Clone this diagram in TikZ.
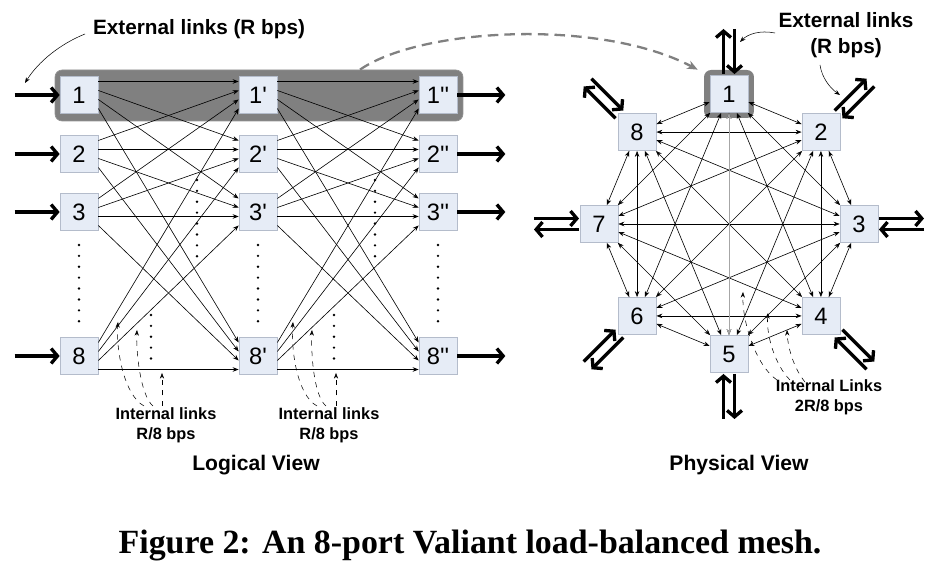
\documentclass[tikz,border=0pt]{standalone}
\usepackage{fontspec}
\setmainfont{Liberation Serif}
\setsansfont{Liberation Sans}
\usetikzlibrary{arrows.meta,calc}

\definecolor{portfill}{HTML}{E6ECF6}
\definecolor{portline}{HTML}{B4BCCB}

\tikzset{
	port/.style={draw=portline, fill=portfill, minimum width=0.76cm, minimum height=0.74cm, inner sep=0pt, font=\sffamily\fontsize{13.5}{15}\selectfont},
	extlink/.style={line width=1.9pt, -{Straight Barb[length=3.6pt,width=8.5pt]}},
	link/.style={line width=0.35pt, -{Stealth[length=3.4pt,width=2.6pt]}},
	mesh/.style={line width=0.35pt, {Stealth[length=3.4pt,width=2.6pt]}-{Stealth[length=3.4pt,width=2.6pt]}},
	note/.style={font=\sffamily\bfseries\fontsize{9.3}{11.5}\selectfont, align=center},
	bignote/.style={font=\sffamily\bfseries\fontsize{11.8}{14.5}\selectfont, align=center},
	title/.style={font=\sffamily\bfseries\fontsize{12}{14}\selectfont},
	pointer/.style={line width=0.3pt, -{Stealth[length=3.2pt,width=2.4pt]}},
	vdots/.style={line width=1.5pt, line cap=round, dash pattern=on 0pt off 6.2pt},
}

\begin{document}
\begin{tikzpicture}[x=0.02cm, y=-0.02cm]
	\useasboundingbox (0,0) rectangle (938,573);

	% logical view
	\draw node[fill=gray, draw=gray!85, rounded corners=4pt, minimum width=8.16cm, minimum height=1.02cm] at (259,95.5) (hl) {};

	\draw node[port] at (79,95) (a1) {1};
	\draw node[port] at (79,154) (a2) {2};
	\draw node[port] at (79,212) (a3) {3};
	\draw node[port] at (79,356) (a8) {8};
	\draw node[port] at (258,95) (b1) {1\textquotesingle};
	\draw node[port] at (258,154) (b2) {2\textquotesingle};
	\draw node[port] at (258,212) (b3) {3\textquotesingle};
	\draw node[port] at (258,356) (b8) {8\textquotesingle};
	\draw node[port] at (438,95) (c1) {1\textquotesingle\textquotesingle};
	\draw node[port] at (438,154) (c2) {2\textquotesingle\textquotesingle};
	\draw node[port] at (438,212) (c3) {3\textquotesingle\textquotesingle};
	\draw node[port] at (438,356) (c8) {8\textquotesingle\textquotesingle};

	\foreach \i/\oi in {1/-13.5, 2/-4.5, 3/4.5, 8/13.5}
		\foreach \j/\oj in {1/-13.5, 2/-4.5, 3/4.5, 8/13.5} {
			\draw [link] ($(a\i.east)+(0,\oj)$) -- ($(b\j.west)+(0,\oi)$);
			\draw [link] ($(b\i.east)+(0,\oj)$) -- ($(c\j.west)+(0,\oi)$);
		}

	\foreach \r in {1,2,3,8} {
		\draw [extlink] ($(a\r.west)+(-45,0)$) -- (a\r.west);
		\draw [extlink] (c\r.east) -- ++(48,0);
	}

	\draw [vdots] (79,245) -- (79,322);
	\draw [vdots] (258,245) -- (258,322);
	\draw [vdots] (438,245) -- (438,322);
	\draw [vdots] (197,180) -- (197,257);
	\draw [vdots] (375,180) -- (375,257);
	\draw [vdots] (151,315) -- (151,360);
	\draw [vdots] (334,315) -- (334,360);

	\draw node[bignote] at (199,29) (extL) {External links (R bps)};
	\draw [pointer] (85,34) .. controls (60,44) and (38,62) .. (25,83);

	\draw node[note] at (166,425) (intL1) {Internal links\\R/8 bps};
	\draw node[note] at (329,425) (intL2) {Internal links\\R/8 bps};
	\draw [pointer, dashed] (144,406) .. controls (124,395) and (116,350) .. (118,322);
	\draw [pointer, dashed] (153,406) .. controls (140,395) and (136,350) .. (137,330);
	\draw [pointer, dashed] (162,406) -- (162,373);
	\draw [pointer, dashed] (317,406) .. controls (297,395) and (291,350) .. (293,322);
	\draw [pointer, dashed] (326,406) .. controls (313,395) and (311,350) .. (312,330);
	\draw [pointer, dashed] (336,406) -- (336,373);

	\draw node[title] at (256,465) (logv) {Logical View};

	% physical view
	\coordinate (pc) at (729,224);
	\draw node[fill=gray, rounded corners=4pt, minimum width=1.0cm, minimum height=0.96cm] at ($(pc)+(0,-130)$) (hlp) {};
	\foreach \k in {1,...,8}
		\draw node[port] at ($(pc)+({(\k-3)*45}:130)$) (p\k) {\k};

	\foreach \i in {1,...,7} {
		\pgfmathtruncatemacro\nxt{\i+1}
		\foreach \j in {\nxt,...,8}
			\draw [mesh] (p\i) -- (p\j);
	}
	\draw [mesh, gray!70] (p1) -- (p5);

	\foreach \k/\rr in {1/150, 2/155, 3/150, 4/155, 5/150, 6/155, 7/150, 8/155} {
		\pgfmathsetmacro\ang{(\k-3)*45}
		\draw [extlink] ($(pc)+({\ang}:{\rr})+({\ang-90}:5.5)$) -- ++({\ang}:45);
		\draw [extlink] ($(pc)+({\ang}:{\rr+45})+({\ang+90}:5.5)$) -- ++({\ang+180}:45);
	}

	\draw [gray, line width=1.3pt, dash pattern=on 6pt off 3.5pt, -{Stealth[length=6pt,width=5pt]}] ($(hl.north)+(101,0)$) .. controls (420,28) and (600,18) .. ($(hlp.north west)+(-6,0)$);

	\draw node[bignote] at (846,35) (extP) {External links\\(R bps)};
	\draw [pointer] (775,33) .. controls (760,30) and (748,34) .. (740,42);
	\draw [pointer] (820,65) .. controls (822,78) and (830,88) .. (840,95);

	\draw node[note] at (829,397) (intP) {Internal Links\\2R/8 bps};
	\draw [pointer, dashed] (777,380) .. controls (755,365) and (742,320) .. (743,292);
	\draw [pointer, dashed] (790,380) .. controls (775,365) and (766,335) .. (768,313);
	\draw [pointer, dashed] (805,382) .. controls (795,370) and (788,350) .. (787,330);

	\draw node[title] at (739,465) (phyv) {Physical View};

	\draw node[font=\bfseries\fontsize{19.3}{22}\selectfont] at (470,545) (cap) {Figure 2: An 8-port Valiant load-balanced mesh.};
\end{tikzpicture}
\end{document}
